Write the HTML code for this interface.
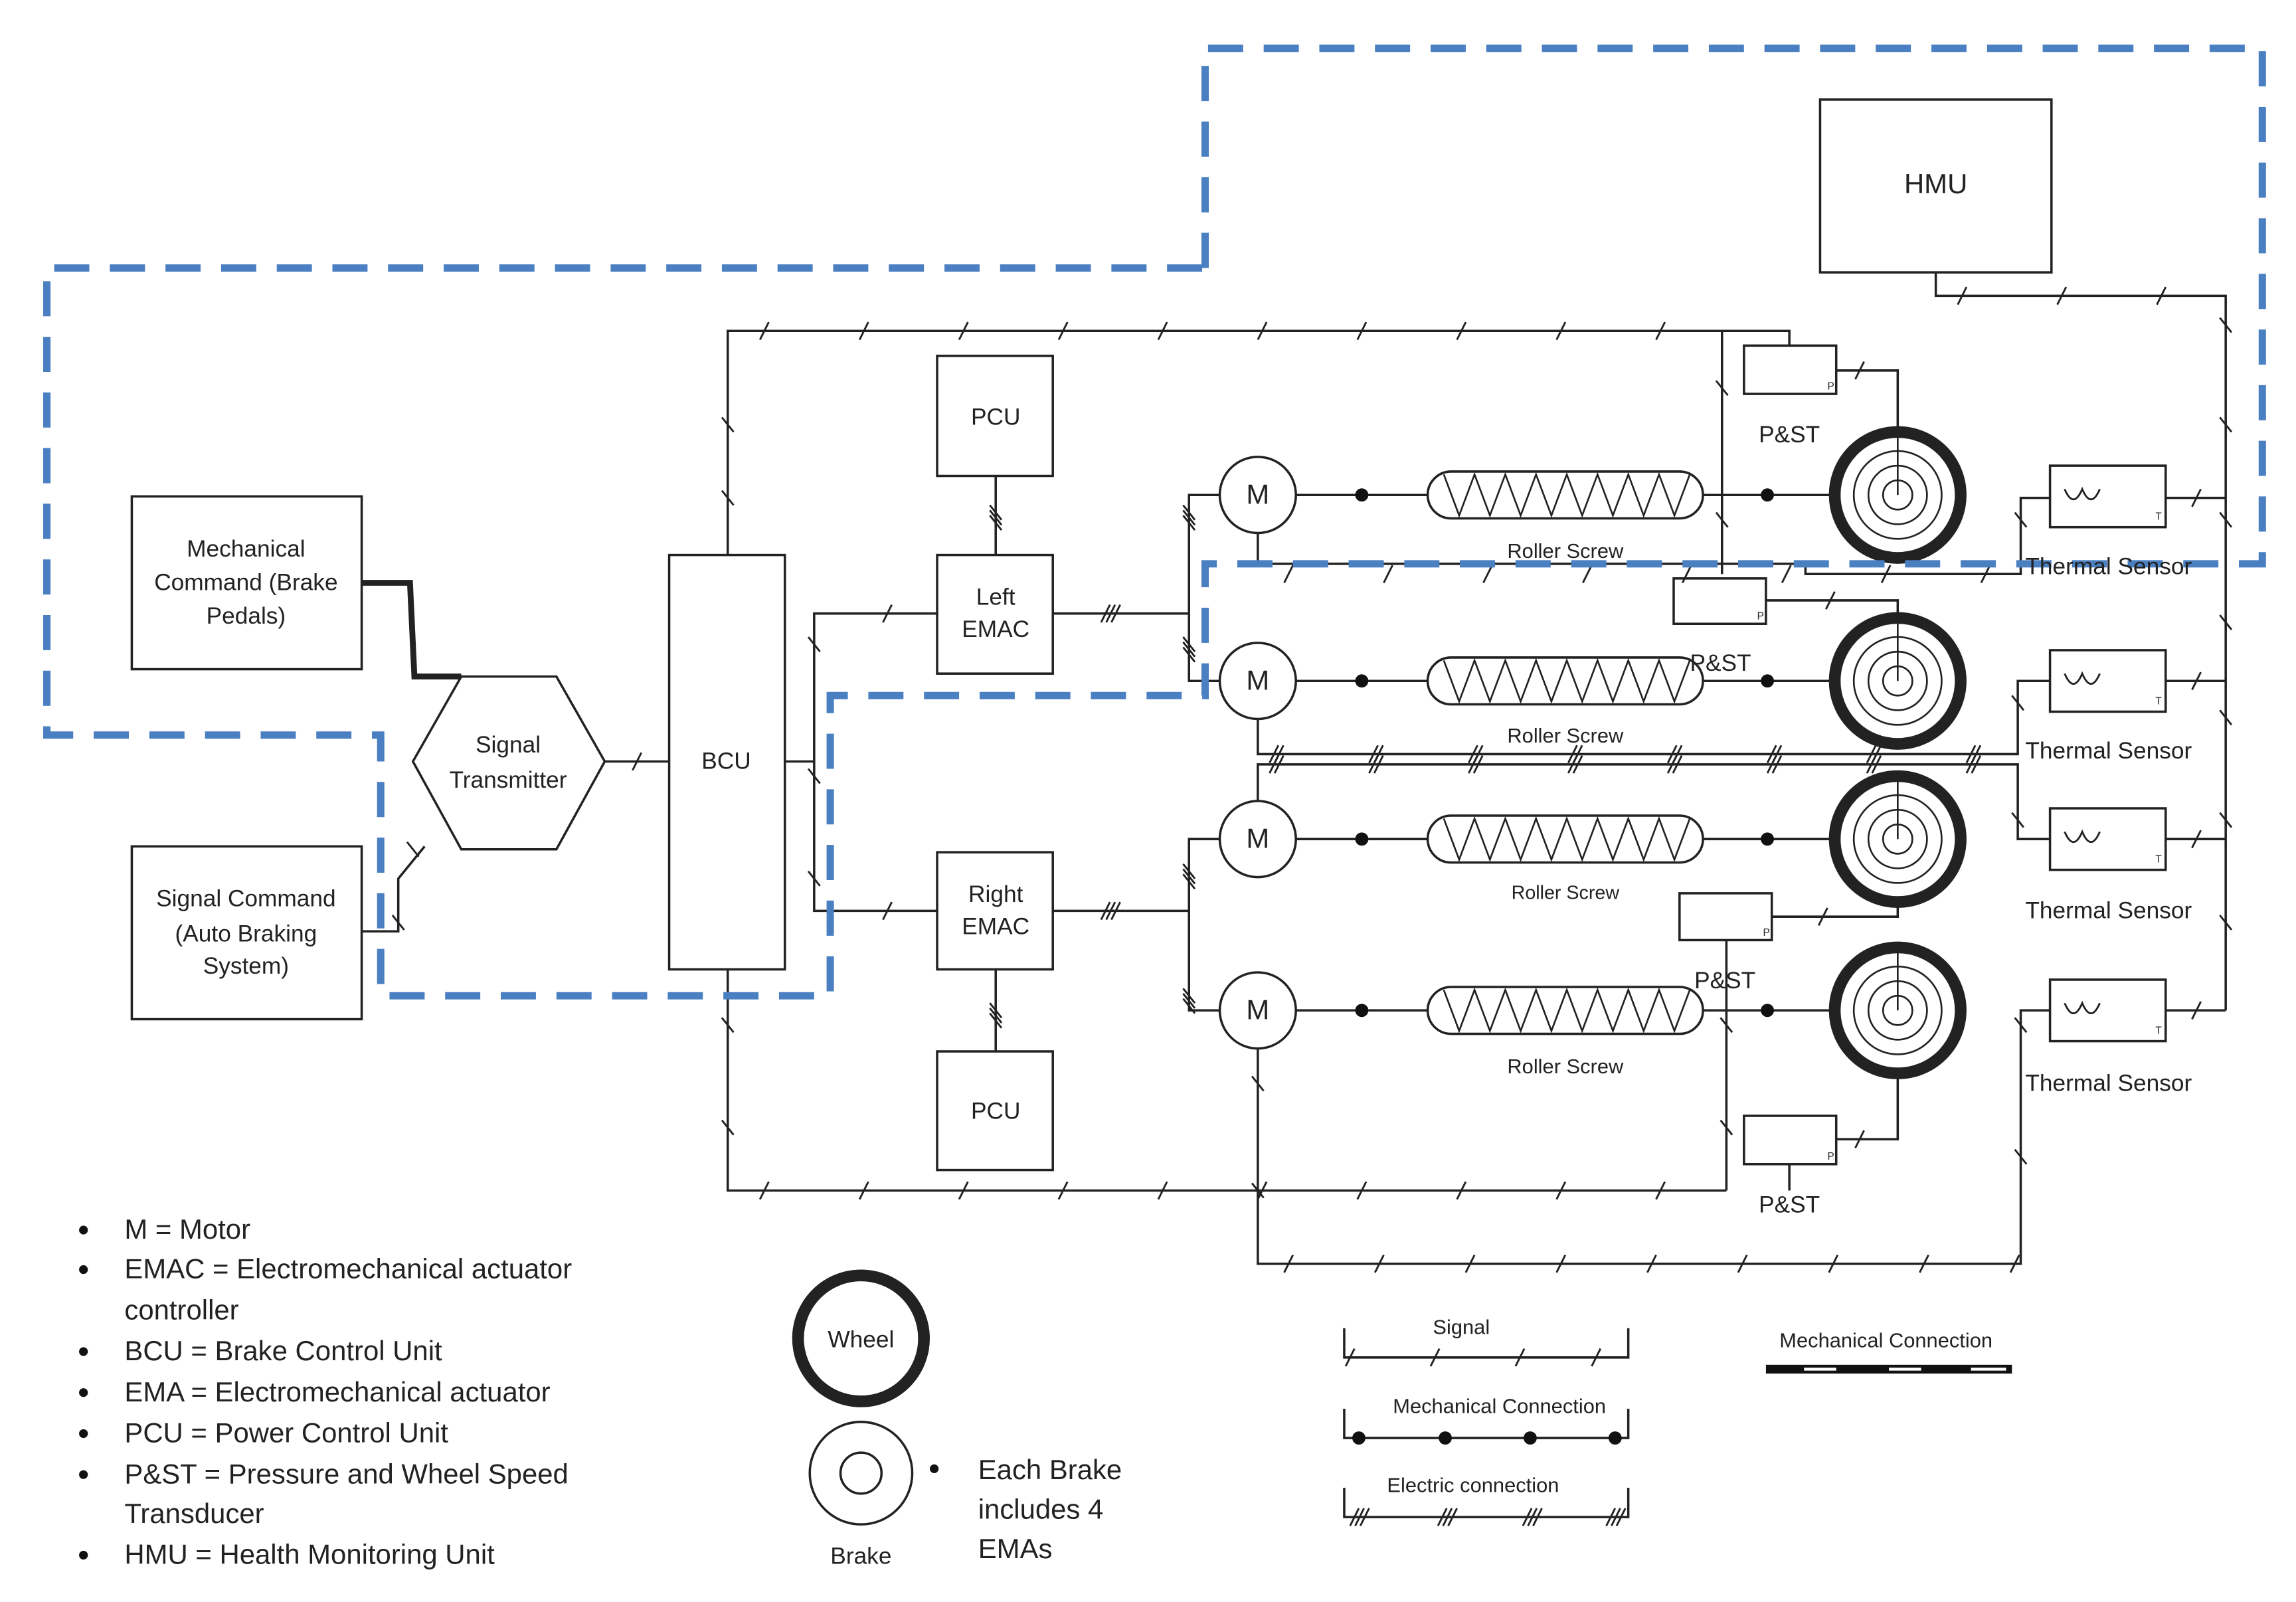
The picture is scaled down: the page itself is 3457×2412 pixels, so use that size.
<!DOCTYPE html>
<html><head><meta charset="utf-8"><style>
html,body{margin:0;padding:0;background:#fff;}
svg{display:block;}
text{font-family:"Liberation Sans",sans-serif;fill:#222;}
</style></head><body>
<svg id="s" width="3457" height="2412" viewBox="0 0 1568 1094" preserveAspectRatio="none" xmlns="http://www.w3.org/2000/svg">
<rect x="0" y="0" width="1568" height="1094" fill="#fff"/>
<g id="g" fill="none" stroke="#222" stroke-width="1.6">
<rect x="90" y="339" width="157" height="118"/>
<rect x="90" y="578" width="157" height="118"/>
<polygon points="282,520 315,462 380,462 413,520 380,580 315,580"/>
<rect x="457" y="379" width="79" height="283"/>
<rect x="640" y="243" width="79" height="82"/>
<rect x="640" y="379" width="79" height="81"/>
<rect x="640" y="582" width="79" height="80"/>
<rect x="640" y="718" width="79" height="81"/>
<rect x="1243" y="68" width="158" height="118"/>
<polyline points="247,398 280,398 283,462 315,462" stroke-width="4"/>
<polyline points="247,636 272,636 272,600 290,578"/>
<line x1="413" y1="520" x2="457" y2="520"/>
<polyline points="497,379 497,226 1222,226 1222,236"/>
<polyline points="1176,226 1176,392"/>
<polyline points="497,662 497,813 1179,813"/>
<polyline points="1179,813 1179,642"/>
<line x1="1222" y1="795" x2="1222" y2="813"/>
<polyline points="536,520 556,520"/>
<polyline points="640,419 556,419 556,622 640,622"/>
<line x1="680" y1="325" x2="680" y2="379"/>
<line x1="680" y1="662" x2="680" y2="718"/>
<line x1="719" y1="419" x2="812" y2="419"/>
<polyline points="833,338 812,338 812,465 833,465"/>
<line x1="719" y1="622" x2="812" y2="622"/>
<polyline points="833,573 812,573 812,690 833,690"/>
<polyline points="1322,186 1322,202 1520,202 1520,690"/>
<rect x="1191" y="236" width="63" height="33"/>
<rect x="1143" y="395" width="63" height="31"/>
<rect x="1147" y="610" width="63" height="32"/>
<rect x="1191" y="762" width="63" height="33"/>
<polyline points="1254,253 1296,253 1296,296"/>
<polyline points="1206,410 1296,410 1296,421"/>
<polyline points="1210,626 1296,626 1296,617"/>
<polyline points="1254,778 1296,778 1296,735"/>
<polyline points="859,364 859,385 1233,385 1233,392 1380,392 1380,340 1400,340"/>
<polyline points="859,491 859,515 1378,515 1378,465 1400,465"/>
<polyline points="859,547 859,522 1378,522 1378,573 1400,573"/>
<polyline points="859,716 859,863 1380,863 1380,690 1400,690"/>
<rect x="1400" y="318" width="79" height="42"/>
<rect x="1400" y="444" width="79" height="42"/>
<rect x="1400" y="552" width="79" height="42"/>
<rect x="1400" y="669" width="79" height="42"/>
<line x1="1479" y1="340" x2="1520" y2="340"/>
<line x1="1479" y1="465" x2="1520" y2="465"/>
<line x1="1479" y1="573" x2="1520" y2="573"/>
<line x1="1479" y1="690" x2="1520" y2="690"/>
<polyline points="918,907 918,927 1112,927 1112,907"/>
<polyline points="918,962 918,982 1112,982 1112,962"/>
<polyline points="918,1016 918,1036 1112,1036 1112,1016"/>
<circle cx="588" cy="914" r="43" stroke-width="8"/>
<circle cx="588" cy="1006" r="35"/>
<circle cx="588" cy="1006" r="14"/>
</g>
<g id="ticks" stroke="#222" stroke-width="1.3" fill="none"></g>
<g id="rows"></g>
<rect x="1206" y="932" width="168" height="6" fill="#111"/>
<rect x="1232" y="934" width="22" height="2" fill="#fff"/>
<rect x="1290" y="934" width="22" height="2" fill="#fff"/>
<rect x="1346" y="934" width="24" height="2" fill="#fff"/>
<g fill="#111">
<circle cx="928" cy="982" r="4.5"/><circle cx="987" cy="982" r="4.5"/><circle cx="1045" cy="982" r="4.5"/><circle cx="1103" cy="982" r="4.5"/>
<circle cx="638" cy="1003" r="3"/>
</g>
<polyline points="823,183 823,33 1545,33 1545,385 823,385 823,475 567,475 567,680 260,680 260,502 32,502 32,183 823,183" fill="none" stroke="#4a7fc1" stroke-width="5" stroke-dasharray="24,14"/>
<g font-size="16" text-anchor="middle">
<text x="168" y="380">Mechanical</text>
<text x="168" y="403">Command (Brake</text>
<text x="168" y="426">Pedals)</text>
<text x="168" y="619">Signal Command</text>
<text x="168" y="643">(Auto Braking</text>
<text x="168" y="665">System)</text>
<text x="347" y="514">Signal</text>
<text x="347" y="538">Transmitter</text>
<text x="496" y="525">BCU</text>
<text x="680" y="290">PCU</text>
<text x="680" y="413">Left</text>
<text x="680" y="435">EMAC</text>
<text x="680" y="616">Right</text>
<text x="680" y="638">EMAC</text>
<text x="680" y="764">PCU</text>
<text x="1322" y="132" font-size="19">HMU</text>
<text x="1222" y="302">P&amp;ST</text>
<text x="1175" y="458">P&amp;ST</text>
<text x="1178" y="675">P&amp;ST</text>
<text x="1222" y="828">P&amp;ST</text>
<text x="1069" y="381" font-size="14">Roller Screw</text>
<text x="1069" y="507" font-size="14">Roller Screw</text>
<text x="1069" y="614" font-size="13">Roller Screw</text>
<text x="1069" y="733" font-size="14">Roller Screw</text>
<text x="1440" y="392">Thermal Sensor</text>
<text x="1440" y="518">Thermal Sensor</text>
<text x="1440" y="627">Thermal Sensor</text>
<text x="1440" y="745">Thermal Sensor</text>
<text x="588" y="920">Wheel</text>
<text x="588" y="1068">Brake</text>
<text x="998" y="911" font-size="14">Signal</text>
<text x="1024" y="965" font-size="14">Mechanical Connection</text>
<text x="1006" y="1019" font-size="14">Electric connection</text>
<text x="1288" y="920" font-size="14">Mechanical Connection</text>
</g>
<g font-size="19">
<text x="668" y="1010">Each Brake</text>
<text x="668" y="1037">includes 4</text>
<text x="668" y="1064">EMAs</text>
<text x="85" y="846">M = Motor</text>
<text x="85" y="873">EMAC = Electromechanical actuator</text>
<text x="85" y="901">controller</text>
<text x="85" y="929">BCU = Brake Control Unit</text>
<text x="85" y="957">EMA = Electromechanical actuator</text>
<text x="85" y="985">PCU = Power Control Unit</text>
<text x="85" y="1013">P&amp;ST = Pressure and Wheel Speed</text>
<text x="85" y="1040">Transducer</text>
<text x="85" y="1068">HMU = Health Monitoring Unit</text>
</g>
<g fill="#111">
<circle cx="57" cy="840" r="3"/><circle cx="57" cy="867" r="3"/><circle cx="57" cy="923" r="3"/><circle cx="57" cy="951" r="3"/><circle cx="57" cy="979" r="3"/><circle cx="57" cy="1007" r="3"/><circle cx="57" cy="1062" r="3"/>
</g>
</svg>
<script>
var NS="http://www.w3.org/2000/svg";
function el(p,t,a){var e=document.createElementNS(NS,t);for(var k in a)e.setAttribute(k,a[k]);p.appendChild(e);return e;}
var rows=document.getElementById('rows'),T=document.getElementById('ticks');
[338,465,573,690].forEach(function(y,i){
  var g=el(rows,'g',{fill:'none',stroke:'#222','stroke-width':1.6});
  el(g,'line',{x1:885,y1:y,x2:975,y2:y});
  el(g,'line',{x1:1163,y1:y,x2:1252,y2:y});
  el(g,'circle',{cx:859,cy:y,r:26,fill:'#fff'});
  el(g,'rect',{x:975,y:y-16,width:188,height:32,rx:16,ry:16});
  var d='M'+(986)+' '+(y-14);
  for(var k=0;k<8;k++){var x=986+k*21;d+=' L'+(x+10.5)+' '+(y+14)+' L'+(x+21)+' '+(y-14);}
  el(g,'path',{d:d,'stroke-width':1.2});
  el(g,'circle',{cx:1296,cy:y,r:43,'stroke-width':8});
  el(g,'circle',{cx:1296,cy:y,r:30,'stroke-width':1.2});
  el(g,'circle',{cx:1296,cy:y,r:20,'stroke-width':1.2});
  el(g,'circle',{cx:1296,cy:y,r:10,'stroke-width':1.2});
  el(g,'line',{x1:1296,y1:y,x2:1296,y2:y-40,'stroke-width':1.2});
  el(rows,'text',{x:859,y:y+6,'font-size':19,'text-anchor':'middle'}).textContent='M';
  el(rows,'circle',{cx:930,cy:y,r:4.5,fill:'#111'});
  el(rows,'circle',{cx:1207,cy:y,r:4.5,fill:'#111'});
  var ty=[318,444,552,669][i];
  el(rows,'path',{d:'M1410 '+(ty+16)+' q6 14 12 0 q6 14 12 0',fill:'none',stroke:'#222','stroke-width':1.3});
  el(rows,'text',{x:1472,y:ty+37,'font-size':7}).textContent='T';
});
['1248,266','1200,423','1204,639','1248,792'].forEach(function(p){var a=p.split(',');el(rows,'text',{x:a[0],y:a[1],'font-size':7}).textContent='P';});
function tick(x,y,v,n){for(var i=0;i<(n||1);i++){var o=i*3.5;if(v)el(T,'line',{x1:x-4,y1:y-5+o,x2:x+4,y2:y+5+o});else el(T,'line',{x1:x-3+o,y1:y+6,x2:x+3+o,y2:y-6});}}
function hrow(x1,x2,y,step,n){for(var x=x1;x<x2;x+=step)tick(x,y,false,n);}
hrow(522,1180,226,68);hrow(522,1180,813,68);hrow(1340,1520,202,68);
hrow(880,1380,392,68);hrow(870,1370,515,68,2);hrow(870,1370,522,68,2);hrow(880,1380,863,62);
[[497,290],[497,340],[497,700],[497,770],[1176,265],[1176,355],[1179,700],[1179,770],[1520,222],[1520,290],[1520,355],[1520,425],[1520,490],[1520,560],[1520,630],[1380,355],[1378,480],[1378,560],[1380,700],[1380,790],[859,740],[859,813],[556,440],[556,530],[556,600],[282,580],[272,630]].forEach(function(p){tick(p[0],p[1],true);});
[[1500,340],[1500,465],[1500,573],[1500,690],[1270,253],[1250,410],[1245,626],[1270,778],[435,520],[606,419],[606,622]].forEach(function(p){tick(p[0],p[1],false);});
[[755,419],[755,622]].forEach(function(p){tick(p[0],p[1],false,3);});
[[812,350],[812,440],[812,595],[812,680],[680,350],[680,690]].forEach(function(p){tick(p[0],p[1],true,3);});
[940,998,1056,1108].forEach(function(x){tick(x-18,927,false);});
[925,985,1043,1100].forEach(function(x){tick(x,1036,false,3);});
</script>
</body></html>
